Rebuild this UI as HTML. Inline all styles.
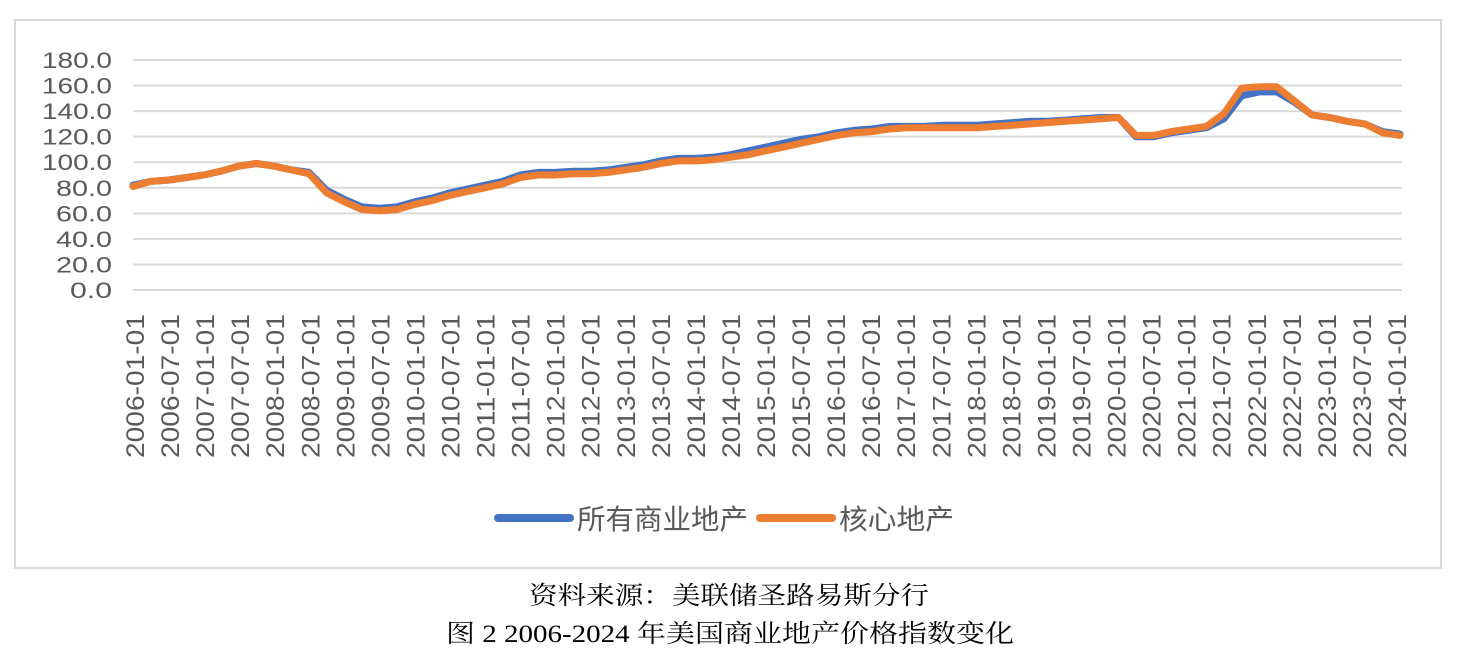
<!DOCTYPE html>
<html><head><meta charset="utf-8"><style>
html,body{margin:0;padding:0;background:#fff;}
svg{display:block;}
</style></head><body>
<svg id="chart" width="1458" height="658" viewBox="0 0 1458 658" xmlns="http://www.w3.org/2000/svg">
<rect x="15" y="20" width="1426" height="548" fill="#fff" stroke="#d9d9d9" stroke-width="2"/>
<g id="grid"></g>
<g id="ylab"></g>
<g id="xlab"></g>
<g id="lines"></g>
<g>
<line x1="498" y1="518" x2="570" y2="518" stroke="#4472c4" stroke-width="8" stroke-linecap="round"/>
<text x="577" y="529" font-family="'Liberation Sans','Noto Sans CJK SC',sans-serif" font-size="28" fill="#595959" textLength="171" lengthAdjust="spacingAndGlyphs">所有商业地产</text>
<line x1="760" y1="518" x2="832" y2="518" stroke="#ed7d31" stroke-width="8" stroke-linecap="round"/>
<text x="839" y="529" font-family="'Liberation Sans','Noto Sans CJK SC',sans-serif" font-size="28" fill="#595959" textLength="115" lengthAdjust="spacingAndGlyphs">核心地产</text>
</g>
<text x="529" y="604" font-family="'Liberation Serif','Noto Serif CJK SC',serif" font-size="25" fill="#000" textLength="400" lengthAdjust="spacingAndGlyphs">资料来源：美联储圣路易斯分行</text>
<text x="446" y="642" font-family="'Liberation Serif','Noto Serif CJK SC',serif" font-size="25" fill="#000" textLength="568" lengthAdjust="spacingAndGlyphs">图 2 2006-2024 年美国商业地产价格指数变化</text>
</svg>
<script>
const yTicks = [0,20,40,60,80,100,120,140,160,180];
const xTickLabels = [];
for (let y = 2006; y <= 2024; y++) { xTickLabels.push(y + '-01-01'); if (y < 2024) xTickLabels.push(y + '-07-01'); }
const coreValues = [
81,85,86,88, 90,93,97,99, 97,94,91,76, 69,63,62,63, 67,70,74,77, 80,83,88,90,
90,91,91,92, 94,96,99,101, 101,102,104,106, 109,112,115,118, 121,123,124,126,
127,127,127,127, 127,128,129,130, 131,132,133,134, 135,121,121,124, 126,128,138,158,
159,159,148,137, 135,132,130,123, 121];
const allValues = [
82,85,86,88, 90,93,97,99, 97,94,92,78, 71,65,64,65, 69,72,76,79, 82,85,90,92,
92,93,93,94, 96,98,101,103, 103,104,106,109, 112,115,118,120, 123,125,126,128,
128,128,129,129, 129,130,131,132, 132,133,134,135, 135,120,120,123, 125,127,134,152,
155,155,147,137, 135,132,130,124, 122];
const NS = 'http://www.w3.org/2000/svg';
const x0 = 133, x1 = 1400, yTop = 60, yBot = 290;
const yScale = v => yBot - v / 180 * (yBot - yTop);
const xQ = i => x0 + i * (x1 - x0) / (coreValues.length - 1);
const xL = i => 135 + i * (1397 - 135) / (xTickLabels.length - 1);
const grid = document.getElementById('grid'), ylab = document.getElementById('ylab');
yTicks.forEach(t => {
  const l = document.createElementNS(NS, 'line');
  
  
  l.setAttribute('x1', x0); l.setAttribute('x2', 1402);
  l.setAttribute('y1', yScale(t)); l.setAttribute('y2', yScale(t));
  l.setAttribute('stroke', '#d9d9d9'); l.setAttribute('stroke-width', '2');
  grid.appendChild(l);
  const tx = document.createElementNS(NS, 'text');
  
  
  tx.setAttribute('x', 112); tx.setAttribute('y', yScale(t) + 8);
  tx.setAttribute('text-anchor', 'end');
  tx.setAttribute('font-family', "'Liberation Sans',sans-serif");
  tx.setAttribute('font-size', '22'); tx.setAttribute('fill', '#595959');
  const s = t.toFixed(1);
  tx.setAttribute('textLength', s.length === 5 ? 70 : s.length === 4 ? 56 : 42);
  tx.setAttribute('lengthAdjust', 'spacingAndGlyphs');
  tx.textContent = s;
  ylab.appendChild(tx);
});
const xlab = document.getElementById('xlab');
xTickLabels.forEach((s, i) => {
  const tx = document.createElementNS(NS, 'text');
  
  
  const cx = xL(i) + 9;
  tx.setAttribute('transform', 'translate(' + cx + ',458) rotate(-90)');
  tx.setAttribute('font-family', "'Liberation Sans',sans-serif");
  tx.setAttribute('font-size', '25'); tx.setAttribute('fill', '#595959');
  tx.setAttribute('textLength', '144'); tx.setAttribute('lengthAdjust', 'spacingAndGlyphs');
  tx.textContent = s;
  xlab.appendChild(tx);
});
const lines = document.getElementById('lines');
function drawSeries(vals, color, name) {
  const p = document.createElementNS(NS, 'polyline');
  
  
  p.setAttribute('points', vals.map((v, i) => xQ(i).toFixed(1) + ',' + yScale(v).toFixed(1)).join(' '));
  p.setAttribute('fill', 'none'); p.setAttribute('stroke', color);
  p.setAttribute('stroke-width', '7'); p.setAttribute('stroke-linejoin', 'round'); p.setAttribute('stroke-linecap', 'round');
  lines.appendChild(p);
}
drawSeries(allValues, '#4472c4', 'line-all-commercial');
drawSeries(coreValues, '#ed7d31', 'line-core');
</script>
</body></html>
